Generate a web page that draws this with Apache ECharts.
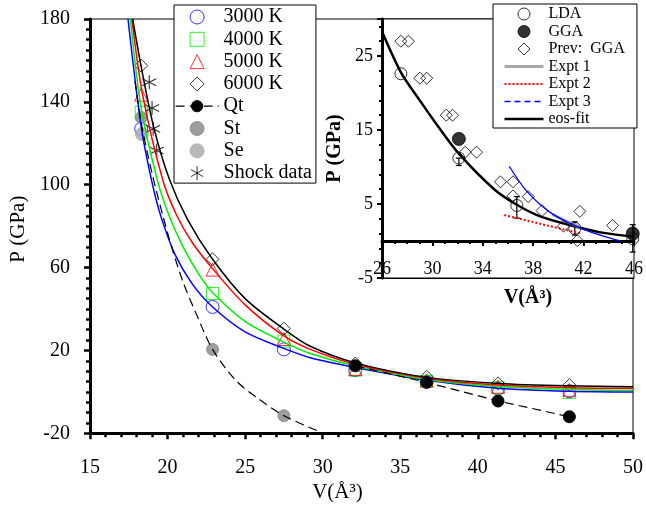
<!DOCTYPE html>
<html>
<head>
<meta charset="utf-8">
<script src="https://cdn.jsdelivr.net/npm/echarts@6/dist/echarts.min.js"></script>
<style>
  html, body { margin: 0; padding: 0; background: #fff; }
  #chart { width: 646px; height: 512px; }
</style>
</head>
<body>
<div id="chart"></div>
<script>
// ---- Main panel: P–V isotherms (V in Å^3, P in GPa) ----
const volumes = [18.3, 22.9, 27.5, 32.1, 36.7, 41.3, 45.9];
const p3000 = [127, 41, 20.5, 10.5, 5, 1.5, 0.3];
const p4000 = [135, 47.5, 24.5, 10.5, 5, 2, -0.3];
const p5000 = [143.5, 59, 25.5, 11, 5.5, 2.5, 1];
const p6000 = [157.5, 64, 30.5, 13.7, 7.3, 4.1, 3.3];

// fitted isotherms
const fitV3000 = [17.45, 18.3, 19.0, 19.6, 20.5, 21.6, 22.9, 25, 27.5, 29.2, 32.1, 36.7, 41.3, 46, 50];
const fitP3000 = [180, 128, 101, 84, 66, 52, 41, 29, 21, 16.5, 11.8, 5.6, 1.8, 0.3, -0.1];
const fitV4000 = [17.6, 18.3, 19.35, 20.1, 21, 22, 22.9, 25, 27.5, 29.2, 32.1, 36.7, 41.3, 46, 50];
const fitP4000 = [180, 137, 102, 85, 70, 57, 48, 34, 24, 18.5, 12.5, 6, 2.6, 1.2, 0.8];
const fitV5000 = [17.7, 18.4, 19.7, 20.6, 21.6, 22.9, 25, 27.5, 29.2, 32.1, 36.7, 41.3, 46, 50];
const fitP5000 = [180, 143, 102, 85, 72, 59.5, 42, 27, 20.5, 13.3, 6.6, 3.3, 2.0, 1.7];
const fitV6000 = [17.75, 18.35, 19.1, 20.1, 21.3, 22.9, 25, 27.5, 29.2, 32.1, 36.7, 41.3, 46, 50];
const fitP6000 = [180, 155, 128, 103, 83, 64, 45, 30.3, 22, 14, 7, 4.1, 2.9, 2.5];

// static (0 K) results
const qtV = [32.1, 36.7, 41.3, 45.9];
const qtP = [12.6, 4.6, -4.4, -12];
const stV = [18.3, 22.9, 27.5];
const stP = [132.5, 20.5, -11.5];
const stFitV = [17.9, 18.35, 19.08, 19.7, 20.3, 21.0, 21.8, 22.9, 24.4, 25.8, 27.5, 30.05];
const stFitP = [150, 128, 103, 85, 69, 53, 38.5, 20.5, 5.5, -3, -11.5, -20];
const seV = [18.35];
const seP = [124.5];

// shock compression data
const shockV = [18.82, 19.0, 19.07, 19.3];
const shockP = [149.5, 137, 127, 116.5];

// ---- Inset: low-pressure region ----
const ldaV = [27.5, 32.1, 36.7, 41.3, 45.9];
const ldaP = [22.6, 11.2, 4.8, 1.7, 0.3];
const ldaLo = [22.6, 10.2, 3.1, 0.8, -1.5];
const ldaHi = [22.6, 11.2, 6.0, 2.6, 2.2];
const ggaV = [32.1, 45.9];
const ggaP = [13.8, 1.0];
const prevV = [27.5, 28.1, 29.0, 29.55, 31.1, 31.6, 32.6, 33.5, 35.4, 36.4, 36.4, 37.6, 38.7, 40.4, 41.5, 41.7, 44.3];
const prevP = [27, 27, 22, 22, 17, 17, 12, 12, 8, 8, 6.1, 6, 4.1, 2.0, 0.05, 4.0, 2.1];
const eosV = [26, 27.5, 29, 30.4, 32.1, 34.9, 36.7, 38.6, 41.5, 43.6, 46];
const eosP = [28.3, 22.8, 19.0, 15.6, 11.8, 7.0, 4.9, 3.3, 1.9, 1.1, 0.6];
const expt1V = [39.5, 40.6, 41.8];
const expt1P = [3.6, 2.7, 1.8];
const expt2V = [35.7, 41.8];
const expt2P = [3.5, 1.0];
const expt3V = [36.1, 37.5, 39.4, 42.1, 44.9];
const expt3P = [10.1, 6.7, 3.8, 1.5, 0];

// axis tick values
const mainXTicks = { min: 15, max: 50, step: 5 };
const mainYTicks = { min: -20, max: 180, step: 40 };
const insetXTicks = { min: 26, max: 46, step: 4 };
const insetYTicks = { min: -5, max: 30, step: 10 };

const zip = (xs, ys) => xs.map((x, i) => [x, ys[i]]);
const FONT = 'Liberation Serif';
const CLEAR = 'rgba(0,0,0,0)';
const asterisk = 'path://M0 -10 L0 10 M-8.66 -5 L8.66 5 M-8.66 5 L8.66 -5';
// legend icons kept square inside the wide legend slot
const squareIcon = 'path://M0 0 L10 0 L10 10 L0 10 Z';
const triangleIcon = 'path://M5 0 L10 10 L0 10 Z';
const diamondIcon = 'path://M5 0 L10 5 L5 10 L0 5 Z';

const chart = echarts.init(document.getElementById('chart'), null, { renderer: 'canvas' });

const curve = (xs, ys, color) => ({
  type: 'line', xAxisIndex: 0, yAxisIndex: 0, data: zip(xs, ys),
  symbol: 'none', smooth: 0.3, silent: true,
  lineStyle: { color: color, width: 1.5 }
});
const marker = (name, xs, ys, symbol, size, color) => ({
  type: 'scatter', name: name, xAxisIndex: 0, yAxisIndex: 0, data: zip(xs, ys),
  symbol: symbol, symbolSize: size, silent: true,
  itemStyle: { color: CLEAR, borderColor: color, borderWidth: 1 }
});

const insetZ = 5;
const noIcon = { color: CLEAR, borderColor: CLEAR, borderWidth: 0 };

const option = {
  animation: false,
  backgroundColor: '#fff',
  textStyle: { fontFamily: FONT },
  grid: [
    { left: 86.7, right: 10, top: 19, bottom: 78.7, show: true, borderColor: '#000', borderWidth: 1 },
    { left: 382, right: 10, top: 19, bottom: 234, show: true, backgroundColor: '#fff',
      borderColor: '#000', borderWidth: 1, z: 3 }
  ],
  xAxis: [
    {
      gridIndex: 0, type: 'value', min: mainXTicks.min, max: mainXTicks.max, interval: mainXTicks.step,
      axisLine: { onZero: false, lineStyle: { color: '#000', width: 3 } },
      axisTick: { length: 6, lineStyle: { color: '#000', width: 2.5 } },
      minorTick: { show: true, splitNumber: 5, length: 4, lineStyle: { color: '#000', width: 2.5 } },
      splitLine: { show: false },
      axisLabel: { fontFamily: FONT, fontSize: 20, color: '#000', margin: 24 },
      name: 'V(Å³)', nameLocation: 'middle', nameGap: 46,
      nameTextStyle: { fontFamily: FONT, fontSize: 21, color: '#000', padding: [0, 48, 0, 0] }
    },
    {
      gridIndex: 1, type: 'value', min: insetXTicks.min, max: insetXTicks.max, interval: insetXTicks.step,
      position: 'bottom', z: 4,
      axisLine: { onZero: true, lineStyle: { color: '#000', width: 3 } },
      axisTick: { length: 5, lineStyle: { color: '#000', width: 2 } },
      minorTick: { show: true, splitNumber: 4, length: 3, lineStyle: { color: '#000', width: 2 } },
      splitLine: { show: false },
      axisLabel: { show: false }
    },
    {
      gridIndex: 1, type: 'value', min: insetXTicks.min, max: insetXTicks.max, interval: insetXTicks.step,
      position: 'bottom', z: 4,
      axisLine: { onZero: false, lineStyle: { color: '#000', width: 1 } },
      axisTick: { show: false },
      splitLine: { show: false },
      axisLabel: { fontFamily: FONT, fontSize: 18, color: '#000', margin: -18 },
      name: 'V(Å³)', nameLocation: 'middle', nameGap: 10,
      nameTextStyle: { fontFamily: FONT, fontSize: 20, fontWeight: 'bold', color: '#000', padding: [0, 0, 0, 40] }
    }
  ],
  yAxis: [
    {
      gridIndex: 0, type: 'value', min: mainYTicks.min, max: mainYTicks.max, interval: mainYTicks.step,
      axisLine: { onZero: false, lineStyle: { color: '#000', width: 3 } },
      axisTick: { length: 6, lineStyle: { color: '#000', width: 2.5 } },
      minorTick: { show: true, splitNumber: 8, length: 4, lineStyle: { color: '#000', width: 2.5 } },
      splitLine: { show: false },
      axisLabel: { fontFamily: FONT, fontSize: 20, color: '#000', margin: 20 },
      name: 'P (GPa)', nameLocation: 'middle', nameGap: 61,
      nameTextStyle: { fontFamily: FONT, fontSize: 21, color: '#000', padding: [0, 6, 0, 0] }
    },
    {
      gridIndex: 1, type: 'value', min: insetYTicks.min, max: insetYTicks.max, interval: insetYTicks.step, z: 4,
      axisLine: { onZero: false, lineStyle: { color: '#000', width: 3 } },
      axisTick: { length: 5, lineStyle: { color: '#000', width: 2 } },
      minorTick: { show: true, splitNumber: 5, length: 3, lineStyle: { color: '#000', width: 2 } },
      splitLine: { show: false },
      axisLabel: { fontFamily: FONT, fontSize: 18, color: '#000', margin: 9, showMaxLabel: false },
      name: 'P (GPa)', nameLocation: 'middle', nameGap: 37,
      nameTextStyle: { fontFamily: FONT, fontSize: 20, fontWeight: 'bold', color: '#000' }
    }
  ],
  legend: [
    {
      left: 174, top: 5, orient: 'vertical', z: 10, selectedMode: false,
      backgroundColor: '#fff', borderColor: '#000', borderWidth: 1, borderRadius: 0,
      padding: [2, 4, 0, 1], itemWidth: 43, itemHeight: 14, itemGap: 2.3, itemTextGap: 2,
      itemStyle: { borderWidth: 1 }, lineStyle: { width: 'inherit' },
      textStyle: { fontFamily: FONT, fontSize: 20, lineHeight: 20, color: '#000' },
      data: [
        '3000 K',
        { name: '4000 K', icon: squareIcon },
        { name: '5000 K', icon: triangleIcon },
        { name: '6000 K', icon: diamondIcon },
        'Qt', 'St', 'Se', 'Shock data'
      ]
    },
    {
      left: 493, top: 4, orient: 'vertical', z: 10, selectedMode: false,
      backgroundColor: '#fff', borderColor: '#000', borderWidth: 1, borderRadius: 0,
      padding: [2, 12, 1, 10], itemWidth: 39, itemHeight: 12, itemGap: 1.5, itemTextGap: 2,
      itemStyle: { borderWidth: 1 }, lineStyle: { width: 'inherit' },
      textStyle: { fontFamily: FONT, fontSize: 16, lineHeight: 16, color: '#000' },
      data: [
        'LDA', 'GGA',
        { name: 'Prev:  GGA', icon: diamondIcon },
        { name: 'Expt 1', itemStyle: noIcon },
        { name: 'Expt 2', itemStyle: noIcon },
        { name: 'Expt 3', lineStyle: { type: [6, 4] }, itemStyle: noIcon },
        { name: 'eos-fit', itemStyle: noIcon }
      ]
    }
  ],
  series: [
    // isotherms
    curve(fitV3000, fitP3000, '#0000ff'),
    curve(fitV4000, fitP4000, '#00ee00'),
    curve(fitV5000, fitP5000, '#ff0000'),
    curve(fitV6000, fitP6000, '#000000'),
    {
      type: 'line', xAxisIndex: 0, yAxisIndex: 0, data: zip(stFitV, stFitP),
      symbol: 'none', smooth: 0.3, silent: true,
      lineStyle: { color: '#000', width: 1.2, type: [9, 5] }
    },
    marker('3000 K', volumes, p3000, 'circle', 13, '#0000ff'),
    marker('4000 K', volumes, p4000, 'rect', 12, '#00ee00'),
    marker('5000 K', volumes, p5000, 'triangle', 13, '#ff0000'),
    marker('6000 K', volumes, p6000, 'diamond', 13, '#000000'),
    {
      type: 'line', name: 'Qt', xAxisIndex: 0, yAxisIndex: 0, data: zip(qtV, qtP),
      symbol: 'circle', symbolSize: 12, showSymbol: true, silent: true,
      itemStyle: { color: '#000', borderColor: '#000' },
      lineStyle: { color: '#000', width: 1.2, type: [9, 5] }
    },
    {
      type: 'scatter', name: 'St', xAxisIndex: 0, yAxisIndex: 0, data: zip(stV, stP),
      symbol: 'circle', symbolSize: 12, silent: true,
      itemStyle: { color: '#858585', borderColor: '#858585' }
    },
    {
      type: 'scatter', name: 'Se', xAxisIndex: 0, yAxisIndex: 0, data: zip(seV, seP),
      symbol: 'circle', symbolSize: 13, silent: true,
      itemStyle: { color: '#a8a8a8', borderColor: '#a8a8a8' }
    },
    {
      type: 'scatter', name: 'Shock data', xAxisIndex: 0, yAxisIndex: 0, data: zip(shockV, shockP),
      symbol: asterisk, symbolSize: 14, silent: true,
      itemStyle: { color: CLEAR, borderColor: '#000', borderWidth: 1.1 }
    },

    // inset
    {
      type: 'line', name: 'eos-fit', xAxisIndex: 1, yAxisIndex: 1, z: insetZ, data: zip(eosV, eosP),
      symbol: 'none', smooth: 0.3, silent: true,
      itemStyle: { color: '#000' }, lineStyle: { color: '#000', width: 2.5 }
    },
    {
      type: 'line', name: 'Expt 1', xAxisIndex: 1, yAxisIndex: 1, z: insetZ, data: zip(expt1V, expt1P),
      symbol: 'none', smooth: 0.3, silent: true,
      itemStyle: { color: '#a6a6a6' }, lineStyle: { color: '#a6a6a6', width: 3 }
    },
    {
      type: 'line', name: 'Expt 2', xAxisIndex: 1, yAxisIndex: 1, z: insetZ, data: zip(expt2V, expt2P),
      symbol: 'none', silent: true,
      itemStyle: { color: '#ff0000' }, lineStyle: { color: '#ff0000', width: 2, type: [2, 2] }
    },
    {
      type: 'line', name: 'Expt 3', xAxisIndex: 1, yAxisIndex: 1, z: insetZ, data: zip(expt3V, expt3P),
      symbol: 'none', smooth: 0.3, silent: true,
      itemStyle: { color: '#0000ff' }, lineStyle: { color: '#0000ff', width: 1.3 }
    },
    {
      type: 'custom', xAxisIndex: 1, yAxisIndex: 1, z: insetZ, silent: true,
      data: ldaV.map((v, i) => [v, ldaLo[i], ldaHi[i]]),
      renderItem: function (params, api) {
        const lo = api.value(1), hi = api.value(2);
        if (lo === hi) return null;
        const a = api.coord([api.value(0), lo]);
        const b = api.coord([api.value(0), hi]);
        const cap = 3;
        const st = { stroke: '#000', lineWidth: 1.2 };
        return {
          type: 'group',
          children: [
            { type: 'line', shape: { x1: a[0], y1: a[1], x2: b[0], y2: b[1] }, style: st },
            { type: 'line', shape: { x1: a[0] - cap, y1: a[1], x2: a[0] + cap, y2: a[1] }, style: st },
            { type: 'line', shape: { x1: b[0] - cap, y1: b[1], x2: b[0] + cap, y2: b[1] }, style: st }
          ]
        };
      }
    },
    {
      type: 'scatter', name: 'Prev:  GGA', xAxisIndex: 1, yAxisIndex: 1, z: insetZ + 1, data: zip(prevV, prevP),
      symbol: 'diamond', symbolSize: 12, silent: true,
      itemStyle: { color: CLEAR, borderColor: '#000', borderWidth: 1 }
    },
    {
      type: 'scatter', name: 'LDA', xAxisIndex: 1, yAxisIndex: 1, z: insetZ + 1, data: zip(ldaV, ldaP),
      symbol: 'circle', symbolSize: 12, silent: true,
      itemStyle: { color: CLEAR, borderColor: '#000', borderWidth: 1 }
    },
    {
      type: 'scatter', name: 'GGA', xAxisIndex: 1, yAxisIndex: 1, z: insetZ + 1, data: zip(ggaV, ggaP),
      symbol: 'circle', symbolSize: 13, silent: true,
      itemStyle: { color: '#000', borderColor: '#000' }
    }
  ]
};

chart.setOption(option);
</script>
</body>
</html>
